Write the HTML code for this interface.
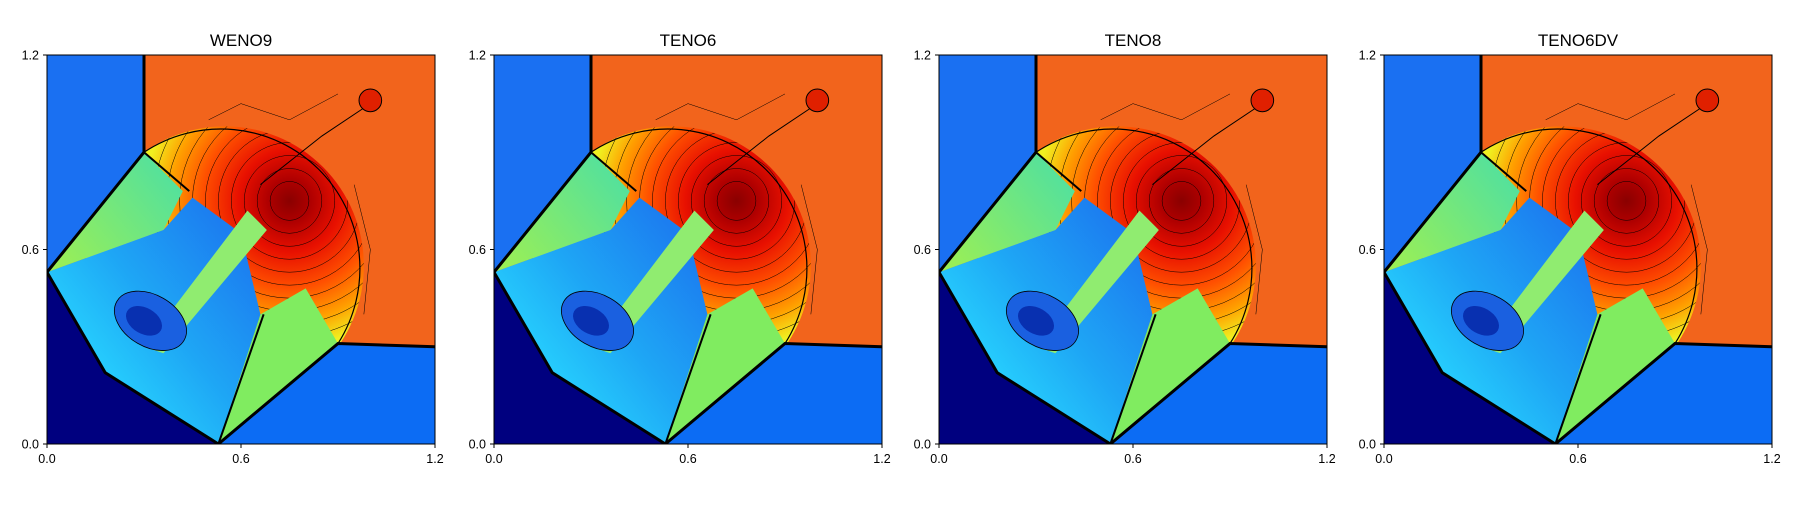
<!DOCTYPE html>
<html><head><meta charset="utf-8"><style>
html,body{margin:0;padding:0;background:#fff;}
body{width:1800px;height:500px;overflow:hidden;font-family:"Liberation Sans",sans-serif;}
text{font-family:"Liberation Sans",sans-serif;}
</style></head><body>
<svg id="fig" width="1800" height="500" viewBox="0 0 1800 500" xmlns="http://www.w3.org/2000/svg">
<defs>
<radialGradient id="hot" gradientUnits="userSpaceOnUse" cx="0.75" cy="0.75" r="0.45">
<stop offset="0" stop-color="#8a0000"/><stop offset="0.15" stop-color="#b00000"/>
<stop offset="0.35" stop-color="#e81000"/><stop offset="0.6" stop-color="#ff5000"/>
<stop offset="0.82" stop-color="#ffa000"/><stop offset="1" stop-color="#f0f020"/>
</radialGradient>
<linearGradient id="cyan" gradientUnits="userSpaceOnUse" x1="0.1" y1="0.2" x2="0.6" y2="0.6">
<stop offset="0" stop-color="#28d8ff"/><stop offset="0.5" stop-color="#1ea6f5"/><stop offset="1" stop-color="#1c7ef0"/>
</linearGradient>
<linearGradient id="green1" gradientUnits="userSpaceOnUse" x1="0" y1="0.53" x2="0.4" y2="0.85">
<stop offset="0" stop-color="#a0f050"/><stop offset="1" stop-color="#50e0a0"/>
</linearGradient>
<clipPath id="arcclip"><circle cx="0.55" cy="0.55" r="0.43"/></clipPath>
<clipPath id="sq"><rect x="0" y="0" width="1.2" height="1.2"/></clipPath>
</defs>
<g id="panels"></g>
</svg>
<script>
const titles = ["WENO9","TENO6","TENO8","TENO6DV"];
const tickValues = [0.0, 0.6, 1.2];
const tickLabels = ["0.0","0.6","1.2"];
const panelLefts = [47,494,939,1384];
const NS="http://www.w3.org/2000/svg";
const root=document.getElementById('panels');
function mk(tag,attrs,parent){const e=document.createElementNS(NS,tag);for(const k in attrs)e.setAttribute(k,attrs[k]);parent.appendChild(e);return e;}
const W=388,H=389,TOP=55;
titles.forEach((t,i)=>{
  const L=panelLefts[i];
  const sx=v=>L+v/1.2*W, sy=v=>TOP+H-v/1.2*H;
  const p=mk('g',{},root);
  
  
  const g=mk('g',{transform:`translate(${L},${TOP+H}) scale(${W/1.2},${-H/1.2})`,'clip-path':'url(#sq)'},p);
  const ns={'vector-effect':'non-scaling-stroke'};
  mk('rect',{x:0,y:0,width:1.2,height:1.2,fill:'#f2641c'},g);
  const hc=mk('g',{'clip-path':'url(#arcclip)'},g);
  mk('rect',{x:0,y:0,width:1.2,height:1.2,fill:'url(#hot)'},hc);
  for(let r=0.06;r<0.45;r+=0.04) mk('circle',{cx:0.75,cy:0.75,r:r,fill:'none',stroke:'#000','stroke-width':0.5,...ns},hc);
  mk('polygon',{points:'0,0.53 0,1.2 0.3,1.2 0.3,0.9',fill:'#1a70f2'},g);
  mk('polygon',{points:'0.53,0 1.2,0 1.2,0.3 0.9,0.31',fill:'#0c6cf4'},g);
  mk('polygon',{points:'0,0.53 0.3,0.9 0.42,0.78 0.36,0.66',fill:'url(#green1)'},g);
  mk('polygon',{points:'0.53,0 0.9,0.31 0.8,0.48 0.66,0.4',fill:'#80ec60'},g);
  mk('polygon',{points:'0,0.53 0.36,0.66 0.45,0.76 0.6,0.65 0.66,0.4 0.53,0 0.18,0.22',fill:'url(#cyan)'},g);
  mk('polygon',{points:'0.3,0.3 0.36,0.28 0.68,0.66 0.62,0.72',fill:'#90ec70'},g);
  mk('ellipse',{cx:0.32,cy:0.38,rx:0.12,ry:0.08,fill:'#1a60e0',stroke:'#000','stroke-width':0.8,...ns,transform:'rotate(-30 0.32 0.38)'},g);
  mk('ellipse',{cx:0.3,cy:0.38,rx:0.06,ry:0.04,fill:'#0830b0',transform:'rotate(-30 0.3 0.38)'},g);
  mk('polygon',{points:'0,0 0,0.53 0.18,0.22 0.53,0',fill:'#00007f'},g);
  mk('path',{d:'M0.3,0.9 A0.43,0.43 0 0,0 0.9,0.31',fill:'none',stroke:'#000','stroke-width':1.2,...ns},g);
  mk('polyline',{points:'0.3,1.2 0.3,0.9 0,0.53 0.18,0.22 0.53,0 0.9,0.31 1.2,0.3',fill:'none',stroke:'#000','stroke-width':3,...ns},g);
  mk('polyline',{points:'0.3,0.9 0.44,0.78',fill:'none',stroke:'#000','stroke-width':2,...ns},g);
  mk('polyline',{points:'0.53,0 0.67,0.4',fill:'none',stroke:'#000','stroke-width':2,...ns},g);
  mk('polyline',{points:'0.66,0.8 0.85,0.95 1.0,1.05',fill:'none',stroke:'#000','stroke-width':1,...ns},g);
  mk('polyline',{points:'0.5,1.0 0.6,1.05 0.75,1.0 0.9,1.08',fill:'none',stroke:'#000','stroke-width':0.5,...ns},g);
  mk('polyline',{points:'0.95,0.8 1.0,0.6 0.98,0.4',fill:'none',stroke:'#000','stroke-width':0.5,...ns},g);
  mk('circle',{cx:1.0,cy:1.06,r:0.035,fill:'#e02000',stroke:'#000','stroke-width':1,...ns},g);
  const fr=mk('rect',{x:L,y:TOP,width:W,height:H,fill:'none',stroke:'#000','stroke-width':1},p);
  
  
  const tt=mk('text',{x:L+W/2,y:46,'text-anchor':'middle','font-size':17,fill:'#000'},p);
  tt.textContent=t;
  
  
  tickValues.forEach((v,k)=>{
    mk('line',{x1:L-4,x2:L,y1:sy(v),y2:sy(v),stroke:'#000'},p);
    const yl=mk('text',{x:L-8,y:sy(v)+4.5,'text-anchor':'end','font-size':12.5,fill:'#000'},p);
    yl.textContent=tickLabels[k];
    
    
    mk('line',{x1:sx(v),x2:sx(v),y1:TOP+H,y2:TOP+H+4,stroke:'#000'},p);
    const xl=mk('text',{x:sx(v),y:TOP+H+19,'text-anchor':'middle','font-size':12.5,fill:'#000'},p);
    xl.textContent=tickLabels[k];
    
    
  });
});
</script>
</body></html>
